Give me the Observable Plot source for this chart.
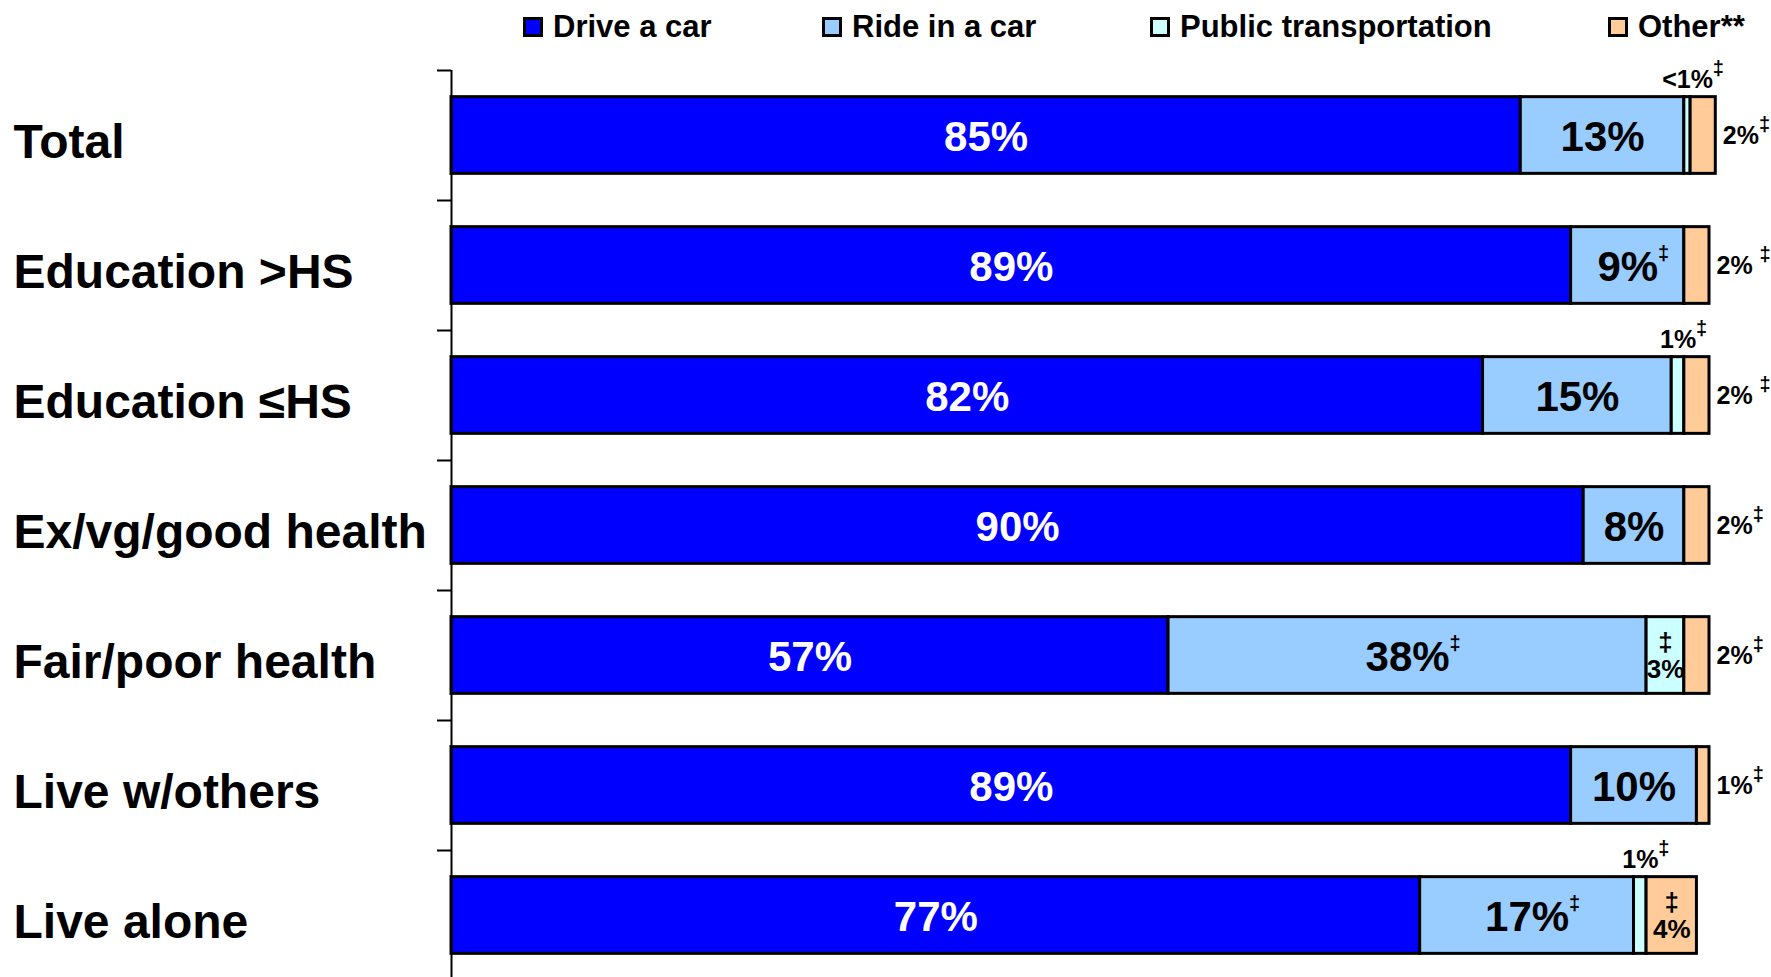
<!DOCTYPE html>
<html>
<head>
<meta charset="utf-8">
<script src="https://cdn.jsdelivr.net/npm/d3@7"></script>
<script src="https://cdn.jsdelivr.net/npm/@observablehq/plot@0.6"></script>
<style>
  html, body { margin: 0; padding: 0; background: #fff; overflow: hidden; }
  body { font-family: "Liberation Sans", Arial, sans-serif; font-weight: bold; width: 1771px; height: 977px; }
  #legend { position: relative; height: 56px; width: 1771px; }
  .sw { position: absolute; top: 17px; width: 20px; height: 20px; box-sizing: border-box; border: 3px solid #000; }
  .lt { position: absolute; top: 10px; font-size: 31px; line-height: 34px; white-space: nowrap; color: #000; }
  #chart svg { display: block; }
</style>
</head>
<body>
<div id="legend"></div>
<div id="chart"></div>
<script>
// ---- data ----
const categories = ["Total", "Education >HS", "Education \u2264HS", "Ex/vg/good health", "Fair/poor health", "Live w/others", "Live alone"];
const modes = ["Drive a car", "Ride in a car", "Public transportation", "Other**"];
const modeColors = ["#0000FF", "#99CCFF", "#CCFFFF", "#FFCC99"];

const driveCar = [85, 89, 82, 90, 57, 89, 77];
const rideInCar = [13, 9, 15, 8, 38, 10, 17];
const publicTransportation = [0.5, 0, 1, 0, 3, 0, 1];
const otherModes = [2, 2, 2, 2, 2, 1, 4];

const driveLabels = ["85%", "89%", "82%", "90%", "57%", "89%", "77%"];
const rideLabels = ["13%", "9%\u2021", "15%", "8%", "38%\u2021", "10%", "17%\u2021"];
const publicLabels = ["<1%\u2021", "", "1%\u2021", "", "3%\u2021", "", "1%\u2021"];
const otherLabels = ["2%\u2021", "2% \u2021", "2% \u2021", "2%\u2021", "2%\u2021", "1%\u2021", "4%\u2021"];

const legendSwatchLeft = [523, 822, 1150, 1608];

// ---- table built from arrays ----
const seriesValues = [driveCar, rideInCar, publicTransportation, otherModes];
const seriesLabels = [driveLabels, rideLabels, publicLabels, otherLabels];
const segments = categories.flatMap((category, i) =>
  modes.map((mode, k) => ({category, mode, k, value: seriesValues[k][i], label: seriesLabels[k][i]}))
);
const insideSmall = d => (d.k === 2 && d.value >= 3) || (d.k === 3 && d.value >= 4);

// ---- legend ----
const legend = d3.select("#legend");
modes.forEach((m, i) => {
  legend.append("div").attr("class", "sw")
    .style("left", legendSwatchLeft[i] + "px").style("background", modeColors[i]);
  legend.append("div").attr("class", "lt")
    .style("left", (legendSwatchLeft[i] + 30) + "px").text(m);
});

// ---- chart ----
const stackOpts = (extra) => Plot.stackX({x: "value", y: "category", ...extra});

const chart = Plot.plot({
  width: 1771,
  height: 924,
  marginTop: 14,
  marginBottom: 0,
  marginLeft: 451,
  marginRight: 62,
  style: {fontFamily: '"Liberation Sans", Arial, sans-serif', fontWeight: "bold", background: "white", color: "black", overflow: "visible"},
  x: {domain: [0, 100], axis: null},
  y: {domain: categories, paddingInner: 0.41, paddingOuter: 0.205, align: 0.5, round: false, label: null},
  color: {domain: modes, range: modeColors},
  marks: [
    Plot.axisY({tickSize: 14, tickFormat: () => "", label: null, dy: -65, strokeWidth: 2, stroke: "black"}),
    Plot.barX(segments.filter(d => d.value > 0), stackOpts({fill: "mode", stroke: "black", strokeWidth: 3})),
    Plot.ruleX([0], {stroke: "black", strokeWidth: 2}),
    Plot.text(segments, stackOpts({text: d => d.k === 0 ? d.label : null, fill: "white", fontSize: 42, dy: 2})),
    Plot.text(segments, stackOpts({text: d => d.k === 1 ? d.label : null, fill: "black", fontSize: 42, dy: 2})),
    Plot.text(segments, stackOpts({text: d => insideSmall(d) ? "\u2021\n" + d.label.replace("\u2021", "") : null, fill: "black", fontSize: 26, lineHeight: 1.05})),
    Plot.text(segments, stackOpts({text: d => d.k === 2 && d.value > 0 && !insideSmall(d) ? d.label : null, fill: "black", fontSize: 25, lineAnchor: "bottom", dy: -48})),
    Plot.text(segments, Plot.stackX2({x: "value", y: "category", text: d => d.k === 3 && !insideSmall(d) ? d.label : null, fill: "black", fontSize: 25, textAnchor: "start", dx: 7})),
    Plot.text(categories, {y: d => d, text: d => d, frameAnchor: "left", textAnchor: "start", dx: -438, dy: 7, fontSize: 48, fill: "black"})
  ]
});
document.getElementById("chart").appendChild(chart);

// superscript daggers
d3.select(chart).selectAll("text").each(function () {
  if (this.querySelector("tspan")) return;
  const s = this.textContent;
  const idx = s.indexOf("\u2021");
  if (idx < 0) return;
  const fs = parseFloat(getComputedStyle(this).fontSize);
  const anchor = getComputedStyle(this).textAnchor;
  const base = s.slice(0, idx);
  this.textContent = "";
  const t = d3.select(this);
  const b = t.append("tspan").text(base);
  const dg = t.append("tspan").attr("font-size", 20).attr("dy", -0.5 * fs).text("\u2021");
  if (anchor === "middle") {
    const wd = dg.node().getComputedTextLength();
    b.attr("dx", wd / 2);
  }
});
</script>
</body>
</html>
